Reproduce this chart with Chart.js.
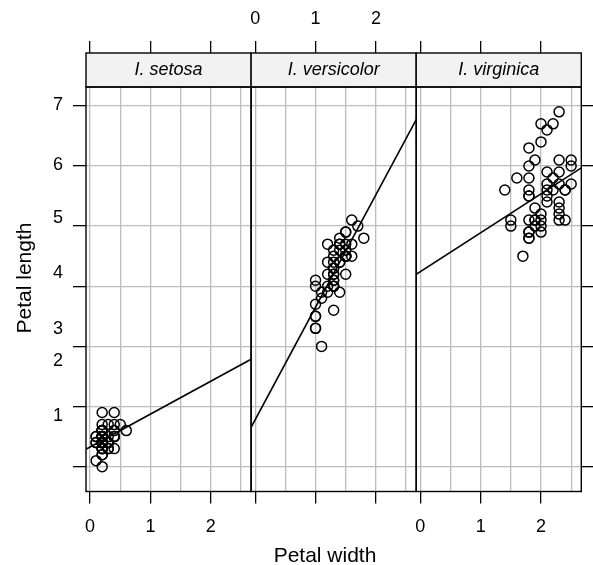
<!DOCTYPE html>
<html>
<head>
<meta charset="utf-8">
<script src="https://cdn.jsdelivr.net/npm/chart.js@4.4.1/dist/chart.umd.min.js"></script>
<style>
  html, body { margin: 0; padding: 0; background: #fff; }
  canvas { display: block; }
</style>
</head>
<body>
<canvas id="myChart" width="593" height="565"></canvas>
<script>
// IRIS PETALS, ONE PANEL PER SPECIES

const species = ["I. setosa", "I. versicolor", "I. virginica"];

const setosaWidth = [
  0.2, 0.2, 0.2, 0.2, 0.2, 0.4, 0.3, 0.2, 0.2, 0.1, 0.2, 0.2, 0.1, 0.1, 0.2,
  0.4, 0.4, 0.3, 0.3, 0.3, 0.2, 0.4, 0.2, 0.5, 0.2, 0.2, 0.4, 0.2, 0.2, 0.2,
  0.2, 0.4, 0.1, 0.2, 0.2, 0.2, 0.2, 0.1, 0.2, 0.2, 0.3, 0.3, 0.2, 0.6, 0.4,
  0.3, 0.2, 0.2, 0.2, 0.2,
];
const setosaLength = [
  1.4, 1.4, 1.3, 1.5, 1.4, 1.7, 1.4, 1.5, 1.4, 1.5, 1.5, 1.6, 1.4, 1.1, 1.2,
  1.5, 1.3, 1.4, 1.7, 1.5, 1.7, 1.5, 1.0, 1.7, 1.9, 1.6, 1.6, 1.5, 1.4, 1.6,
  1.6, 1.5, 1.5, 1.4, 1.5, 1.2, 1.3, 1.4, 1.3, 1.5, 1.3, 1.3, 1.3, 1.6, 1.9,
  1.4, 1.6, 1.4, 1.5, 1.4,
];
const versicolorWidth = [
  1.4, 1.5, 1.5, 1.3, 1.5, 1.3, 1.6, 1.0, 1.3, 1.4, 1.0, 1.5, 1.0, 1.4, 1.3,
  1.4, 1.5, 1.0, 1.5, 1.1, 1.8, 1.3, 1.5, 1.2, 1.3, 1.4, 1.4, 1.7, 1.5, 1.0,
  1.1, 1.0, 1.2, 1.6, 1.5, 1.6, 1.5, 1.3, 1.3, 1.3, 1.2, 1.4, 1.2, 1.0, 1.3,
  1.2, 1.3, 1.3, 1.1, 1.3,
];
const versicolorLength = [
  4.7, 4.5, 4.9, 4.0, 4.6, 4.5, 4.7, 3.3, 4.6, 3.9, 3.5, 4.2, 4.0, 4.7, 3.6,
  4.4, 4.5, 4.1, 4.5, 3.9, 4.8, 4.0, 4.9, 4.7, 4.3, 4.4, 4.8, 5.0, 4.5, 3.5,
  3.8, 3.7, 3.9, 5.1, 4.5, 4.5, 4.7, 4.4, 4.1, 4.0, 4.4, 4.6, 4.0, 3.3, 4.2,
  4.2, 4.2, 4.3, 3.0, 4.1,
];
const virginicaWidth = [
  2.5, 1.9, 2.1, 1.8, 2.2, 2.1, 1.7, 1.8, 1.8, 2.5, 2.0, 1.9, 2.1, 2.0, 2.4,
  2.3, 1.8, 2.2, 2.3, 1.5, 2.3, 2.0, 2.0, 1.8, 2.1, 1.8, 1.8, 1.8, 2.1, 1.6,
  1.9, 2.0, 2.2, 1.5, 1.4, 2.3, 2.4, 1.8, 1.8, 2.1, 2.4, 2.3, 1.9, 2.3, 2.5,
  2.3, 1.9, 2.0, 2.3, 1.8,
];
const virginicaLength = [
  6.0, 5.1, 5.9, 5.6, 5.8, 6.6, 4.5, 6.3, 5.8, 6.1, 5.1, 5.3, 5.5, 5.0, 5.1,
  5.3, 5.5, 6.7, 6.9, 5.0, 5.7, 4.9, 6.7, 4.9, 5.7, 6.0, 4.8, 4.9, 5.6, 5.8,
  6.1, 6.4, 5.6, 5.1, 5.6, 6.1, 5.6, 5.5, 4.8, 5.4, 5.6, 5.1, 5.1, 5.9, 5.7,
  5.2, 5.0, 5.2, 5.4, 5.1,
];

const xTicks = [0, 0.5, 1, 1.5, 2, 2.5];
const yTicks = [1, 2, 3, 4, 5, 6, 7];
// the left labels sit a little off their ticks in the original
const yTickLabels = ["1", "2", "3", "4", "5", "6", "7"];
const yLabelPos = [1.85, 2.75, 3.29, 4.22, 5.13, 6.02, 7.02];

const panels = [
  { name: species[0], w: setosaWidth, l: setosaLength },
  { name: species[1], w: versicolorWidth, l: versicolorLength },
  { name: species[2], w: virginicaWidth, l: virginicaLength },
];

// lattice style range: data range plus 7% each side
function padRange(values) {
  const lo = Math.min(...values);
  const hi = Math.max(...values);
  const pad = (hi - lo) * 0.07;
  return [lo - pad, hi + pad];
}

function lsFit(x, y) {
  const n = x.length;
  const mx = x.reduce((a, b) => a + b, 0) / n;
  const my = y.reduce((a, b) => a + b, 0) / n;
  let sxy = 0, sxx = 0;
  for (let i = 0; i < n; i++) {
    sxy += (x[i] - mx) * (y[i] - my);
    sxx += (x[i] - mx) * (x[i] - mx);
  }
  const b = sxy / sxx;
  return { a: my - b * mx, b: b };
}

const xRange = padRange(panels.flatMap((p) => p.w));
const yRange = padRange(panels.flatMap((p) => p.l));

const FONT = "'Liberation Sans', Arial, Helvetica, sans-serif";
const tickFont = { family: FONT, size: 18 };
const gridGrey = "#bdbdbd";

const datasets = [];
panels.forEach((p, i) => {
  const axis = "x" + i;
  datasets.push({
    data: p.w.map((w, k) => ({ x: w, y: p.l[k] })),
    xAxisID: axis,
    yAxisID: "y",
    pointRadius: 5,
    pointHoverRadius: 5,
    pointBorderWidth: 1.5,
    borderColor: "#000",
    backgroundColor: "rgba(0,0,0,0)",
  });
  const f = lsFit(p.w, p.l);
  datasets.push({
    data: xRange.map((x) => ({ x: x, y: f.a + f.b * x })),
    xAxisID: axis,
    yAxisID: "y",
    showLine: true,
    pointRadius: 0,
    borderWidth: 1.6,
    borderColor: "#000",
    fill: false,
  });
});

function xAxis(pos, showLabels, onArea) {
  return {
    type: "linear",
    position: pos,
    stack: pos,
    stackWeight: 1,
    weight: pos === "top" ? 2 : 0,
    min: xRange[0],
    max: xRange[1],
    afterBuildTicks: (s) => {
      s.ticks = xTicks.map((v) => ({ value: v }));
    },
    afterFit: (s) => {
      s.height = pos === "top" ? 53 : 73.5;
    },
    grid: {
      drawOnChartArea: onArea,
      color: gridGrey,
      lineWidth: 1.3,
      tickLength: 12,
      tickWidth: 1.3,
      tickColor: (c) =>
        Number.isInteger(c.tick.value) ? "#000" : "rgba(0,0,0,0)",
    },
    border: { display: false },
    ticks: {
      display: showLabels,
      autoSkip: false,
      maxRotation: 0,
      padding: pos === "top" ? 11 : 13,
      color: "#000",
      font: tickFont,
      callback: (v) => (Number.isInteger(v) ? String(v) : ""),
    },
  };
}

const yTickAxis = (pos, onArea, width) => ({
  type: "linear",
  position: pos,
  min: yRange[0],
  max: yRange[1],
  afterBuildTicks: (s) => {
    s.ticks = yTicks.map((v) => ({ value: v }));
  },
  afterFit: (s) => {
    s.width = width;
  },
  grid: {
    drawOnChartArea: onArea,
    color: gridGrey,
    lineWidth: 1.3,
    tickLength: 13,
    tickWidth: 1.3,
    tickColor: "#000",
  },
  border: { display: false },
  ticks: { display: false },
});

const panelFrame = {
  id: "panelFrame",
  afterDatasetsDraw(chart) {
    const { ctx, chartArea } = chart;
    const strip = chart.scales.strip;
    ctx.save();
    ctx.lineWidth = 1.4;
    ctx.strokeStyle = "#000";
    panels.forEach((p, i) => {
      const sc = chart.scales["x" + i];
      ctx.fillStyle = "#f2f2f2";
      ctx.fillRect(sc.left, strip.top, sc.width, strip.height);
      ctx.strokeRect(sc.left, strip.top, sc.width, strip.height);
      ctx.strokeRect(sc.left, chartArea.top, sc.width, chartArea.height);
      ctx.fillStyle = "#000";
      ctx.font = "italic 18px " + FONT;
      ctx.textAlign = "center";
      ctx.textBaseline = "middle";
      ctx.fillText(p.name, (sc.left + sc.right) / 2, (strip.top + strip.bottom) / 2);
    });

    // axis titles
    ctx.font = "21px " + FONT;
    ctx.fillText("Petal width", 325, 556);
    ctx.translate(25, 278);
    ctx.rotate(-Math.PI / 2);
    ctx.fillText("Petal length", 0, 0);
    ctx.restore();
  },
};

const ctx = document.getElementById("myChart");

new Chart(ctx, {
  type: "scatter",
  data: { datasets: datasets },
  plugins: [panelFrame],
  options: {
    responsive: false,
    animation: false,
    devicePixelRatio: 1,
    layout: { padding: 0 },
    plugins: {
      legend: { display: false },
      tooltip: { enabled: false },
      title: { display: false },
    },
    scales: {
      x0: xAxis("bottom", true, true),
      x1: xAxis("bottom", false, true),
      x2: xAxis("bottom", true, true),
      t0: xAxis("top", false, false),
      t1: xAxis("top", true, false),
      t2: xAxis("top", false, false),
      strip: {
        type: "linear",
        position: "top",
        weight: 1,
        min: 0,
        max: 1,
        grid: { display: false },
        border: { display: false },
        ticks: { display: false },
        afterFit: (s) => {
          s.height = 34;
        },
      },
      yl: {
        type: "linear",
        position: "left",
        weight: 1,
        min: yRange[0],
        max: yRange[1],
        afterBuildTicks: (s) => {
          s.ticks = yLabelPos.map((v) => ({ value: v }));
        },
        afterFit: (s) => {
          s.width = 73;
        },
        grid: { display: false, drawTicks: false },
        border: { display: false },
        ticks: {
          autoSkip: false,
          padding: 10,
          color: "#000",
          font: tickFont,
          callback: (v, i) => yTickLabels[i],
        },
      },
      y: yTickAxis("left", true, 13),
      yr: yTickAxis("right", false, 10.5),
    },
  },
});
</script>
</body>
</html>
